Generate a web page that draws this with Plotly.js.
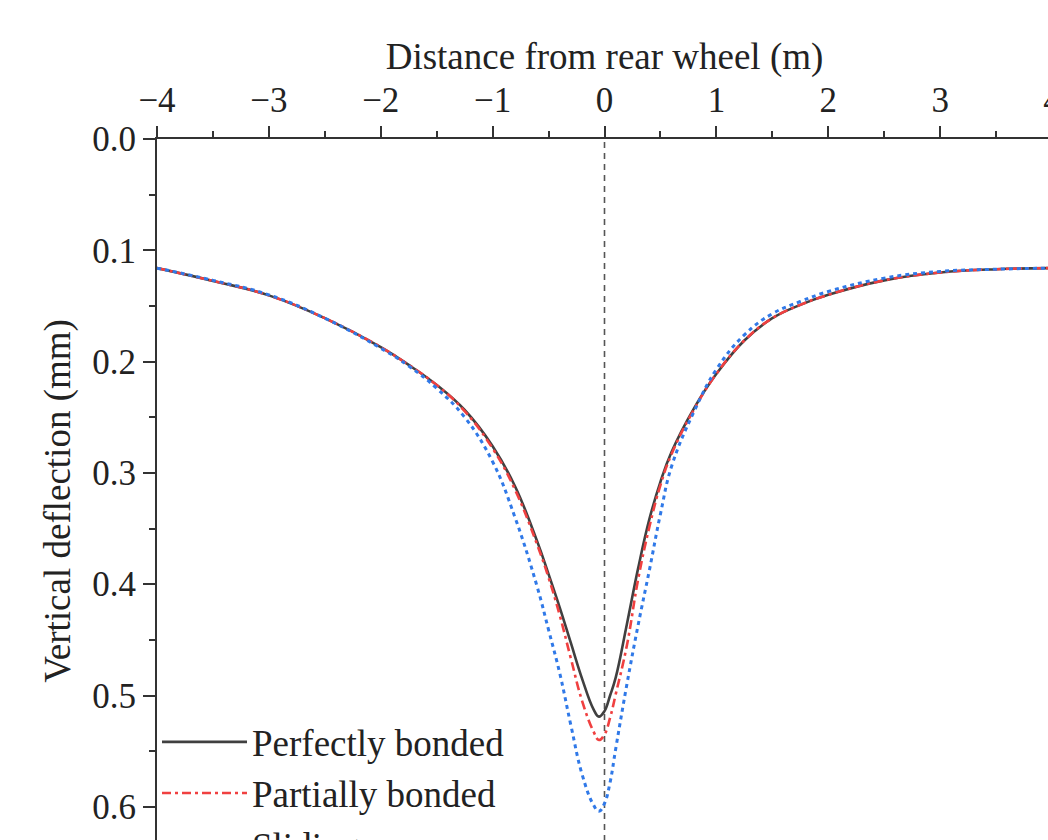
<!DOCTYPE html>
<html>
<head>
<meta charset="utf-8">
<script src="https://cdn.plot.ly/plotly-3.0.1.min.js"></script>
<style>
html, body { margin: 0; padding: 0; overflow: hidden; background: #fff; }
#chart { width: 1070px; height: 903px; }
</style>
</head>
<body>
<div id="chart"></div>
<script>
// Distance from rear wheel (m)
const distance = [-4, -3.5, -3, -2.5, -2, -1.75, -1.5, -1.25, -1, -0.8, -0.6, -0.5, -0.4, -0.3, -0.2, -0.1, -0.05, 0, 0.05, 0.1, 0.2, 0.3, 0.4, 0.5, 0.6, 0.8, 1, 1.25, 1.5, 1.75, 2, 2.5, 3, 3.5, 4];

// Vertical deflection (mm)
const perfectlyBonded = [0.116, 0.1275, 0.1405, 0.161, 0.187, 0.203, 0.221, 0.2435, 0.276, 0.312, 0.362, 0.391, 0.421, 0.453, 0.485, 0.512, 0.519, 0.514, 0.500, 0.484, 0.436, 0.386, 0.342, 0.308, 0.281, 0.242, 0.211, 0.181, 0.161, 0.149, 0.140, 0.127, 0.120, 0.117, 0.116];
const partiallyBonded = [0.116, 0.1275, 0.1405, 0.161, 0.187, 0.203, 0.221, 0.2445, 0.278, 0.315, 0.365, 0.394, 0.428, 0.467, 0.505, 0.532, 0.540, 0.535, 0.520, 0.499, 0.455, 0.396, 0.349, 0.311, 0.283, 0.243, 0.211, 0.181, 0.161, 0.149, 0.140, 0.127, 0.120, 0.117, 0.116];
const sliding = [0.116, 0.1270, 0.1400, 0.161, 0.188, 0.204, 0.224, 0.250, 0.290, 0.340, 0.403, 0.441, 0.480, 0.527, 0.571, 0.598, 0.604, 0.597, 0.578, 0.548, 0.490, 0.437, 0.388, 0.337, 0.294, 0.245, 0.207, 0.176, 0.157, 0.146, 0.137, 0.125, 0.119, 0.117, 0.116];

const seriesNames = ['Perfectly bonded', 'Partially bonded', 'Sliding'];
const referenceX = 0;

const FONT = 'Liberation Serif, Times New Roman, serif';
const INK = '#222222';

const traces = [
  { x: distance, y: perfectlyBonded, name: seriesNames[0], mode: 'lines',
    line: { color: '#404040', width: 2.6, dash: 'solid', shape: 'spline', smoothing: 1.2 } },
  { x: distance, y: partiallyBonded, name: seriesNames[1], mode: 'lines',
    line: { color: '#f04040', width: 2.6, dash: '9px,4px,3px,4px', shape: 'spline', smoothing: 1.2 } },
  { x: distance, y: sliding, name: seriesNames[2], mode: 'lines',
    line: { color: '#3079e8', width: 3, dash: '4px,4px', shape: 'spline', smoothing: 1.2 } }
];

const layout = {
  width: 1070, height: 903,
  margin: { l: 157, r: 18, t: 139, b: 40 },
  paper_bgcolor: '#ffffff', plot_bgcolor: '#ffffff',
  font: { family: FONT, color: INK, size: 35 },
  showlegend: true,
  legend: {
    x: 0, xanchor: 'left', y: 0.2095, yanchor: 'top',
    bgcolor: 'rgba(0,0,0,0)', borderwidth: 0,
    font: { family: FONT, size: 37, color: INK },
    itemwidth: 85, tracegroupgap: 0
  },
  xaxis: {
    side: 'top', range: [-4, 4], dtick: 1, tick0: 0,
    showgrid: false, zeroline: false,
    showline: true, linecolor: '#333', linewidth: 2,
    ticks: 'outside', ticklen: 11, tickwidth: 2, tickcolor: '#333',
    minor: { dtick: 0.5, ticks: 'outside', ticklen: 6, tickwidth: 2, tickcolor: '#333', showgrid: false },
    tickfont: { family: FONT, size: 35, color: INK },
    title: { text: 'Distance from rear wheel (m)', font: { family: FONT, size: 37, color: INK }, standoff: 0 }
  },
  yaxis: {
    range: [0.6505, 0], dtick: 0.1, tick0: 0, tickformat: '.1f',
    showgrid: false, zeroline: false,
    showline: true, linecolor: '#333', linewidth: 2,
    ticks: 'outside', ticklen: 12, tickwidth: 2, tickcolor: '#333',
    minor: { dtick: 0.05, ticks: 'outside', ticklen: 6, tickwidth: 2, tickcolor: '#333', showgrid: false },
    tickfont: { family: FONT, size: 35, color: INK },
    title: { text: 'Vertical deflection (mm)', font: { family: FONT, size: 37, color: INK }, standoff: 10 }
  },
  shapes: [
    { type: 'line', xref: 'x', yref: 'paper', x0: referenceX, x1: referenceX, y0: 0, y1: 1,
      line: { color: '#555', width: 1.6, dash: '6px,5px' }, layer: 'below' }
  ]
};

Plotly.newPlot('chart', traces, layout, { staticPlot: true, displayModeBar: false });
</script>
</body>
</html>
